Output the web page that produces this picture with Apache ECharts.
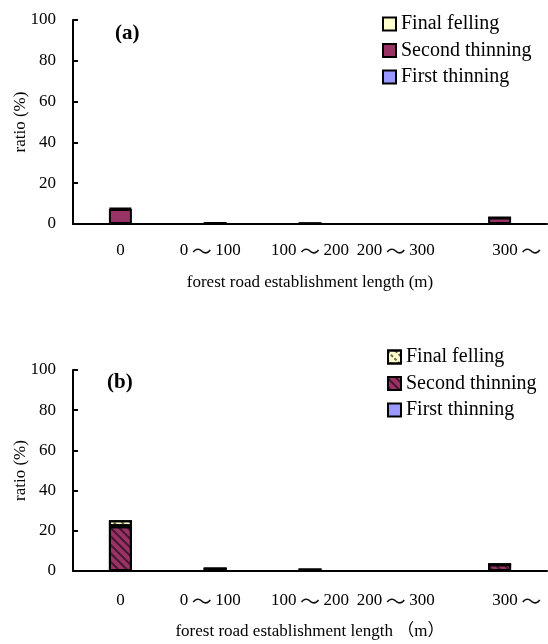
<!DOCTYPE html>
<html>
<head>
<meta charset="utf-8">
<script src="https://cdn.jsdelivr.net/npm/echarts@6/dist/echarts.min.js"></script>
<style>
html,body{margin:0;padding:0;background:#fff;}
#chart{width:548px;height:644px;}
</style>
</head>
<body>
<div id="chart"></div>
<script>
// ---- data ----
const categories = ['0', '0～100', '100～200', '200～300', '300～'];
const seriesNames = ['First thinning', 'Second thinning', 'Final felling'];
// panel (a)
const aFirstThinning  = [0, 0, 0, 0, 0];
const aSecondThinning = [7.3, 0.5, 0.4, 0, 3.2];
const aFinalFelling   = [0.5, 0, 0, 0, 0];
// panel (b)
const bFirstThinning  = [0, 0, 0, 0, 0];
const bSecondThinning = [22.3, 1.2, 0.8, 0, 3.3];
const bFinalFelling   = [3, 0, 0, 0, 0];
const yTicks = [0, 20, 40, 60, 80, 100];
const panelLabels = ['(a)', '(b)'];
const xTitles = ['forest road establishment length (m)', 'forest road establishment length （m）'];
const yTitle = 'ratio (%)';

// ---- style ----
const FONT = "'Liberation Serif','Times New Roman','Noto Sans CJK SC',serif";
const colors = {'First thinning': '#9999FF', 'Second thinning': '#993366', 'Final felling': '#FFFFCC'};
const labelShift = [0, -5, 0, -9, 19];

const rich = {
  t: {fontFamily: "'Noto Sans CJK SC',sans-serif", fontSize: 20, color: '#111', width: 27, align: 'center', lineHeight: 20}
};
labelShift.forEach((s, i) => {
  rich['l' + i] = {
    fontFamily: FONT, fontSize: 17, color: '#000', lineHeight: 20,
    padding: s >= 0 ? [0, 0, 0, 2 * s] : [0, -2 * s, 0, 0]
  };
  rich['m' + i] = {fontFamily: FONT, fontSize: 17, color: '#000', lineHeight: 20};
});

function fmtLabel(v, i) {
  const parts = v.split('～');
  let out = '';
  parts.forEach((p, k) => {
    if (k > 0) out += '{t|～}';
    if (p) out += '{m' + i + '|' + p + '}';
  });
  const s = labelShift[i];
  if (s > 0) out = '{l' + i + '|}' + out;
  else if (s < 0) out = out + '{l' + i + '|}';
  return out;
}

function xAxis(gridIndex, title, margin, gap) {
  return {
    type: 'category', gridIndex, data: categories,
    axisLine: {lineStyle: {color: '#000', width: 2}},
    axisTick: {inside: true, length: 6, lineStyle: {color: '#000', width: 2}, interval: 0},
    axisLabel: {interval: 0, margin, formatter: fmtLabel, rich},
    name: title, nameLocation: 'middle', nameGap: gap, nameMoveOverlap: false,
    nameTextStyle: {fontFamily: FONT, fontSize: 17, color: '#000'}
  };
}
function yAxis(gridIndex) {
  return {
    type: 'value', gridIndex, min: yTicks[0], max: yTicks[yTicks.length - 1],
    interval: yTicks[1] - yTicks[0],
    splitLine: {show: false},
    axisLine: {show: true, lineStyle: {color: '#000', width: 2}},
    axisTick: {show: true, inside: true, length: 5, lineStyle: {color: '#000', width: 2}},
    axisLabel: {margin: 17, fontFamily: FONT, fontSize: 17, color: '#000'},
    name: yTitle, nameLocation: 'middle', nameGap: 44, nameRotate: 90, nameMoveOverlap: false,
    nameTextStyle: {fontFamily: FONT, fontSize: 17, color: '#000'}
  };
}

const decals = {
  'Second thinning': {symbol: 'rect', symbolSize: 1, dashArrayX: [1, 0], dashArrayY: [2, 4], rotation: Math.PI / 4, color: 'rgba(0,0,0,0.55)'},
  'Final felling': {symbol: 'rect', symbolSize: 1, dashArrayX: [[3, 2]], dashArrayY: [2, 4], rotation: Math.PI / 4, color: 'rgba(0,0,0,0.6)'}
};

function bar(name, data, idx, decal) {
  const s = {
    name, type: 'bar', stack: 'p' + idx, xAxisIndex: idx, yAxisIndex: idx,
    data, barWidth: 23,
    itemStyle: {color: colors[name.trim()], borderColor: '#000', borderWidth: 2},
    emphasis: {disabled: true}
  };
  if (decal) s.itemStyle.decal = decal;
  return s;
}

const series = [
  bar('First thinning', aFirstThinning, 0),
  bar('Second thinning', aSecondThinning, 0),
  bar('Final felling', aFinalFelling, 0),
  bar('First thinning ', bFirstThinning, 1),
  bar('Second thinning ', bSecondThinning, 1, decals['Second thinning']),
  bar('Final felling ', bFinalFelling, 1, decals['Final felling'])
];

function legend(top, left, names) {
  return {
    orient: 'vertical', top, left, padding: 0, itemWidth: 13, itemHeight: 13, itemGap: 6.5,
    icon: 'rect', selectedMode: false,
    textStyle: {fontFamily: FONT, fontSize: 20, color: '#000', lineHeight: 20},
    data: names
  };
}

const option = {
  animation: false,
  backgroundColor: '#fff',
  title: [
    {text: panelLabels[0], left: 115, top: 23, padding: 0, textStyle: {fontFamily: FONT, fontSize: 21, fontWeight: 'bold', color: '#000'}},
    {text: panelLabels[1], left: 107, top: 372, padding: 0, textStyle: {fontFamily: FONT, fontSize: 21, fontWeight: 'bold', color: '#000'}}
  ],
  legend: [
    legend(14, 382, ['Final felling', 'Second thinning', 'First thinning']),
    legend(347, 387, ['Final felling ', 'Second thinning ', 'First thinning '])
  ],
  grid: [
    {left: 73, right: 1, top: 20, height: 204},
    {left: 73, right: 1, top: 370, height: 201}
  ],
  xAxis: [xAxis(0, xTitles[0], 17, 50), xAxis(1, xTitles[1], 20, 52)],
  yAxis: [yAxis(0), yAxis(1)],
  series
};

const chart = echarts.init(document.getElementById('chart'), null, {renderer: 'canvas'});
chart.setOption(option);
</script>
</body>
</html>
